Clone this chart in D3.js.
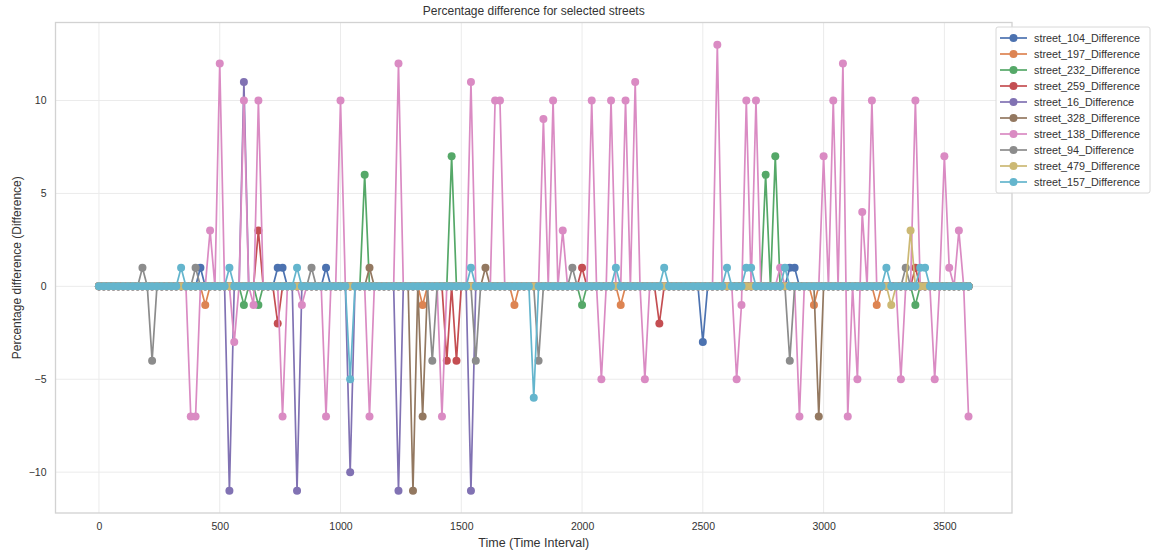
<!DOCTYPE html>
<html>
<head>
<meta charset="utf-8">
<script src="https://cdn.jsdelivr.net/npm/d3@7"></script>
<style>
  body { margin: 0; background: #fff; }
  svg { font-family: "Liberation Sans", Arial, sans-serif; }
</style>
</head>
<body>
<svg id="chart" width="1151" height="554"></svg>
<script>
// ---------- DATA ----------
const timeStart = 0, timeEnd = 3600, timeStep = 20;   // sampled time intervals
const seriesNames = ["street_104_Difference","street_197_Difference","street_232_Difference",
  "street_259_Difference","street_16_Difference","street_328_Difference","street_138_Difference",
  "street_94_Difference","street_479_Difference","street_157_Difference"];
// non-zero readings [time, value]; every other time step is 0
const s104 = [[420,1],[740,1],[760,1],[940,1],[2500,-3],[2860,1],[2880,1]];
const s197 = [[440,-1],[1340,-1],[1720,-1],[2160,-1],[2960,-1],[3220,-1]];
const s232 = [[600,-1],[660,-1],[1100,6],[1460,7],[2000,-1],[2760,6],[2800,7],[3380,-1]];
const s259 = [[660,3],[740,-2],[1440,-4],[1480,-4],[2000,1],[2320,-2],[3380,1]];
const s16  = [[540,-11],[600,11],[820,-11],[1040,-10],[1240,-11],[1540,-11]];
const s328 = [[1120,1],[1300,-11],[1340,-7],[1600,1],[2980,-7]];
const s138 = [[380,-7],[400,-7],[460,3],[500,12],[560,-3],[600,10],[640,-1],[660,10],[760,-7],
  [840,-1],[940,-7],[1000,10],[1120,-7],[1240,12],[1420,-7],[1540,11],[1640,10],[1660,10],
  [1840,9],[1880,10],[1920,3],[2040,10],[2080,-5],[2120,10],[2180,10],[2220,11],[2260,-5],
  [2560,13],[2640,-5],[2660,-1],[2680,10],[2720,10],[2820,1],[2900,-7],[3000,7],[3040,10],
  [3080,12],[3100,-7],[3140,-5],[3160,4],[3200,10],[3320,-5],[3380,10],[3460,-5],[3500,7],
  [3520,1],[3560,3],[3600,-7]];
const s94  = [[180,1],[220,-4],[400,1],[880,1],[1380,-4],[1560,-4],[1820,-4],[1960,1],[2860,-4],[3340,1]];
const s479 = [[3280,-1],[3360,3]];
const s157 = [[340,1],[540,1],[820,1],[1040,-5],[1540,1],[1800,-6],[2140,1],[2340,1],[2600,1],
  [2680,1],[2700,1],[2840,1],[3260,1],[3400,1],[3420,1]];
const seriesReadings = [s104,s197,s232,s259,s16,s328,s138,s94,s479,s157];
const xTicks = [0,500,1000,1500,2000,2500,3000,3500];
const yTicks = [-10,-5,0,5,10];
const colors = ["#4C72B0","#DD8452","#55A868","#C44E52","#8172B3","#937860","#DA8BC3","#8C8C8C","#CCB974","#64B5CD"];

// ---------- BUILD ----------
const times = d3.range(timeStart, timeEnd + 1, timeStep);
const series = seriesReadings.map((r, i) => {
  const m = new Map(r);
  return { name: seriesNames[i], color: colors[i], values: times.map(t => ({t, v: m.has(t) ? m.get(t) : 0})) };
});

const svg = d3.select("#chart");
const L = 55.5, R = 1012, T = 22.5, B = 513;
const allV = series.flatMap(s => s.values.map(d => d.v));
const vMin = d3.min(allV), vMax = d3.max(allV);
const xPad = (timeEnd - timeStart) * 0.05, yPad = (vMax - vMin) * 0.05;
const x = d3.scaleLinear().domain([timeStart - xPad, timeEnd + xPad]).range([L, R]);
const y = d3.scaleLinear().domain([vMin - yPad, vMax + yPad]).range([B, T]);

// grid
svg.append("g").selectAll("line").data(xTicks).join("line")
  .attr("x1", d => x(d)).attr("x2", d => x(d)).attr("y1", T).attr("y2", B)
  .attr("stroke", "#ebebeb").attr("stroke-width", 1);
svg.append("g").selectAll("line").data(yTicks).join("line")
  .attr("y1", d => y(d)).attr("y2", d => y(d)).attr("x1", L).attr("x2", R)
  .attr("stroke", "#ebebeb").attr("stroke-width", 1);

// axes
const xAxis = svg.append("g").attr("transform", `translate(0,${B})`)
  .call(d3.axisBottom(x).tickValues(xTicks).tickFormat(d3.format("d")).tickSize(0).tickPadding(10));
const yAxis = svg.append("g").attr("transform", `translate(${L},0)`)
  .call(d3.axisLeft(y).tickValues(yTicks).tickSize(0).tickPadding(9));
[xAxis, yAxis].forEach(a => {
  a.select(".domain").remove();
  a.selectAll("text").attr("font-size", 10.5).attr("fill", "#333").attr("font-family", "Liberation Sans, Arial, sans-serif");
});

// frame
svg.append("rect").attr("x", L).attr("y", T).attr("width", R - L).attr("height", B - T)
  .attr("fill", "none").attr("stroke", "#d2d2d2").attr("stroke-width", 1.3);

// series
const line = d3.line().x(d => x(d.t)).y(d => y(d.v));
const plot = svg.append("g");
series.forEach(s => {
  const g = plot.append("g");
  g.append("path").datum(s.values).attr("d", line)
    .attr("fill", "none").attr("stroke", s.color).attr("stroke-width", 1.7).attr("stroke-linejoin", "round");
  g.selectAll("circle").data(s.values).join("circle")
    .attr("cx", d => x(d.t)).attr("cy", d => y(d.v)).attr("r", 4).attr("fill", s.color);
});

// title & labels
svg.append("text").attr("x", (L + R) / 2).attr("y", 15).attr("text-anchor", "middle")
  .attr("font-size", 12).attr("fill", "#333").text("Percentage difference for selected streets");
svg.append("text").attr("x", (L + R) / 2).attr("y", 547).attr("text-anchor", "middle")
  .attr("font-size", 12.5).attr("fill", "#333").text("Time (Time Interval)");
svg.append("text").attr("transform", `translate(21,${(T + B) / 2}) rotate(-90)`).attr("text-anchor", "middle")
  .attr("font-size", 12).attr("fill", "#333").text("Percentage difference (Difference)");

// legend
const lg = svg.append("g").attr("transform", "translate(996,27)");
lg.append("rect").attr("width", 154).attr("height", 166).attr("rx", 2)
  .attr("fill", "#fff").attr("fill-opacity", 0.9).attr("stroke", "#d8d8d8");
series.forEach((s, i) => {
  const yy = 11 + i * 16;
  lg.append("line").attr("x1", 4).attr("x2", 31).attr("y1", yy).attr("y2", yy)
    .attr("stroke", s.color).attr("stroke-width", 1.7);
  lg.append("circle").attr("cx", 17.5).attr("cy", yy).attr("r", 4).attr("fill", s.color);
  lg.append("text").attr("x", 38).attr("y", yy + 4).attr("font-size", 10.8).attr("fill", "#333").text(s.name);
});
</script>
</body>
</html>
